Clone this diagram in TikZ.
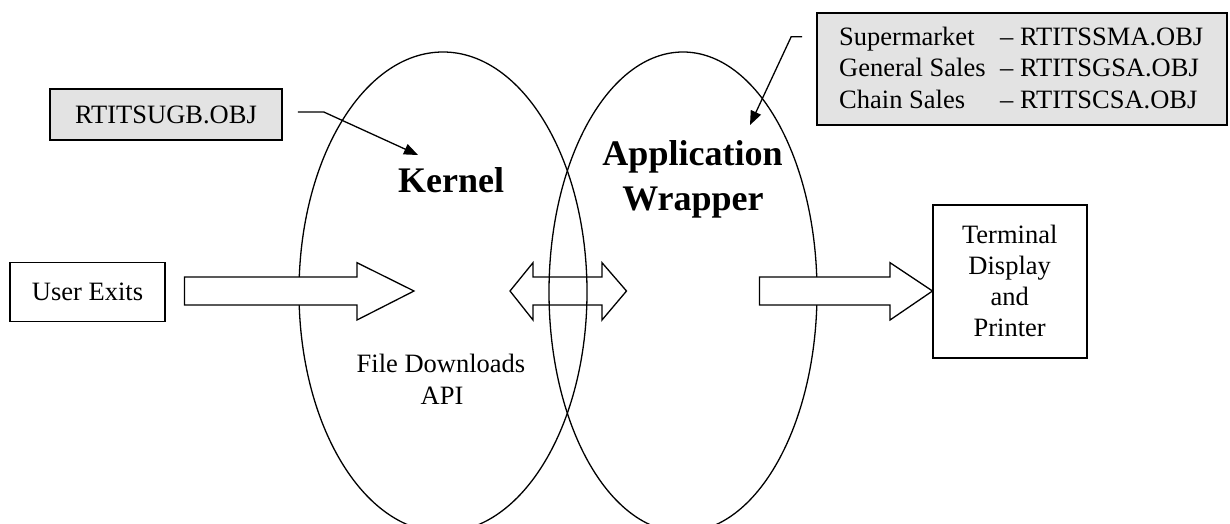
\documentclass[tikz,border=0pt]{standalone}
\usepackage{fontspec}
\setmainfont{Liberation Serif}
\usetikzlibrary{arrows.meta}
\begin{document}
\begin{tikzpicture}[x=1pt,y=-1pt,
  txt/.style={font=\fontsize{26.5}{31}\selectfont, inner sep=0pt},
  bigtxt/.style={font=\fontsize{36}{45}\selectfont\bfseries, inner sep=0pt},
  graybox/.style={draw, line width=1.6pt, fill=black!11},
  whitebox/.style={draw, line width=1.6pt, fill=white},
  oval/.style={draw, line width=1.3pt},
  blockarrow/.style={draw, line width=1.3pt, fill=white, line join=miter},
  conn/.style={line width=1.3pt, -{Triangle[length=14pt,width=11pt]}}
]
\useasboundingbox (0,0) rectangle (1230,524);

% double arrow (behind the ellipses)
\draw[blockarrow] (510,291) -- (533,262.7) -- (533,277) -- (602,277) -- (602,262.7)
  -- (626.5,291) -- (602,320) -- (602,305) -- (533,305) -- (533,320) -- cycle;

% ellipses
\begin{scope}
\clip (0,0) rectangle (1230,524);
\draw[oval] (443,292) ellipse [x radius=144, y radius=240];
\draw[oval] (683,292) ellipse [x radius=134, y radius=240];
\end{scope}

% block arrows in front
\draw[blockarrow] (184.5,277) -- (357,277) -- (357,262.7) -- (414,291) -- (357,320)
  -- (357,305) -- (184.5,305) -- cycle;
\draw[blockarrow] (759.5,277) -- (890,277) -- (890,262.7) -- (932.5,291) -- (890,320)
  -- (890,305) -- (759.5,305) -- cycle;

% boxes
\node[graybox, txt, minimum width=232pt, minimum height=51pt] (ugb) at (166,114.5) {RTITSUGB.OBJ};
\node[graybox, minimum width=410pt, minimum height=112pt] (smbox) at (1022,69) {};
\node[whitebox, txt, minimum width=155pt, minimum height=59pt] (ue) at (87.5,292) {User Exits};
\node[whitebox, txt, align=center, minimum width=154pt, minimum height=153pt] (term) at (1009.7,281.4)
  {Terminal\\Display\\and\\Printer};

% supermarket box text
\node[txt, anchor=base west] (sm1) at (839,45.5) {Supermarket};
\node[txt, anchor=base west] (sm1b) at (1000,45.5) {– RTITSSMA.OBJ};
\node[txt, anchor=base west] (sm2) at (839,77) {General Sales};
\node[txt, anchor=base west] (sm2b) at (1000,77) {– RTITSGSA.OBJ};
\node[txt, anchor=base west] (sm3) at (839,108.5) {Chain Sales};
\node[txt, anchor=base west] (sm3b) at (1000,108.5) {– RTITSCSA.OBJ};

% ellipse labels
\node[bigtxt, anchor=base] (kernel) at (451,192) {Kernel};
\node[bigtxt, anchor=base] (app) at (692.5,165) {Application};
\node[bigtxt, anchor=base] (wrap) at (693,210) {Wrapper};
\node[txt, anchor=base] (fd) at (441,372) {File Downloads};
\node[txt, anchor=base] (api) at (442,404) {API};

% connectors
\coordinate (ktip) at (418,155);
\coordinate (wtip) at (750,125);
\draw[conn] ([xshift=15pt,yshift=2.5pt]ugb.east) -- ++(26,0) -- (ktip);
\draw[conn] ([xshift=-14pt,yshift=32.3pt]smbox.west) -- ++(-11,0) -- (wtip);
\end{tikzpicture}
\end{document}
